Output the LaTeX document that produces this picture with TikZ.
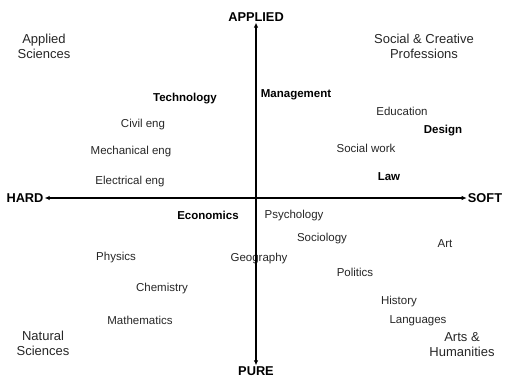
\documentclass[tikz,border=0pt]{standalone}
\usepackage{fontspec}
\setmainfont{Liberation Sans}
\usetikzlibrary{arrows.meta}
\begin{document}
\begin{tikzpicture}[x=1pt,y=-1pt,
    subj/.style={text=black!85,font=\fontsize{11.5}{13}\selectfont,inner sep=1pt,yshift=-1.8pt},
    key/.style={font=\fontsize{11.5}{13}\selectfont\bfseries,inner sep=1pt,yshift=-1.8pt},
    axis/.style={font=\fontsize{12.8}{14}\selectfont\bfseries,inner sep=1pt,yshift=-1pt},
    corner/.style={text=black!85,font=\fontsize{13}{15}\selectfont,align=center,inner sep=1pt,yshift=-1.5pt}]
      \useasboundingbox (0,0) rectangle (508,378);
      \draw
        (256,16) node[axis] (applied){APPLIED}
        (256,370) node[axis] (pure){PURE}
        (25,197) node[axis] (hard){HARD}
        (485,197) node[axis] (soft){SOFT};
      \draw
        (44,45) node[corner] (appsci){Applied\\Sciences}
        (424,45) node[corner] (socpro){Social \& Creative\\Professions}
        (43,342) node[corner] (natsci){Natural\\Sciences}
        (462,343) node[corner] (artshum){Arts \&\\Humanities};
      \draw
        (185,97) node[key] (tech){Technology}
        (296,93) node[key] (mgmt){Management}
        (443,129) node[key] (design){Design}
        (389,175) node[key] (law){Law}
        (208,214) node[key] (econ){Economics};
      \draw
        (143,123) node[subj] (civil){Civil eng}
        (131,150) node[subj] (mech){Mechanical eng}
        (130,180) node[subj] (elec){Electrical eng}
        (402,110) node[subj] (edu){Education}
        (366,147) node[subj] (social){Social work}
        (294,214) node[subj] (psych){Psychology}
        (322,237) node[subj] (socio){Sociology}
        (445,242) node[subj] (art){Art}
        (116,256) node[subj] (phys){Physics}
        (259,257) node[subj] (geog){Geography}
        (355,271) node[subj] (pol){Politics}
        (162,287) node[subj] (chem){Chemistry}
        (399,300) node[subj] (hist){History}
        (418,319) node[subj] (lang){Languages}
        (140,319) node[subj] (maths){Mathematics};
      \begin{scope}[line width=1.6pt,{Latex[length=5pt,width=4.5pt]}-{Latex[length=5pt,width=4.5pt]}]
        \draw (applied) to (pure);
        \draw (hard) to (soft);
      \end{scope}
    \end{tikzpicture}
\end{document}
